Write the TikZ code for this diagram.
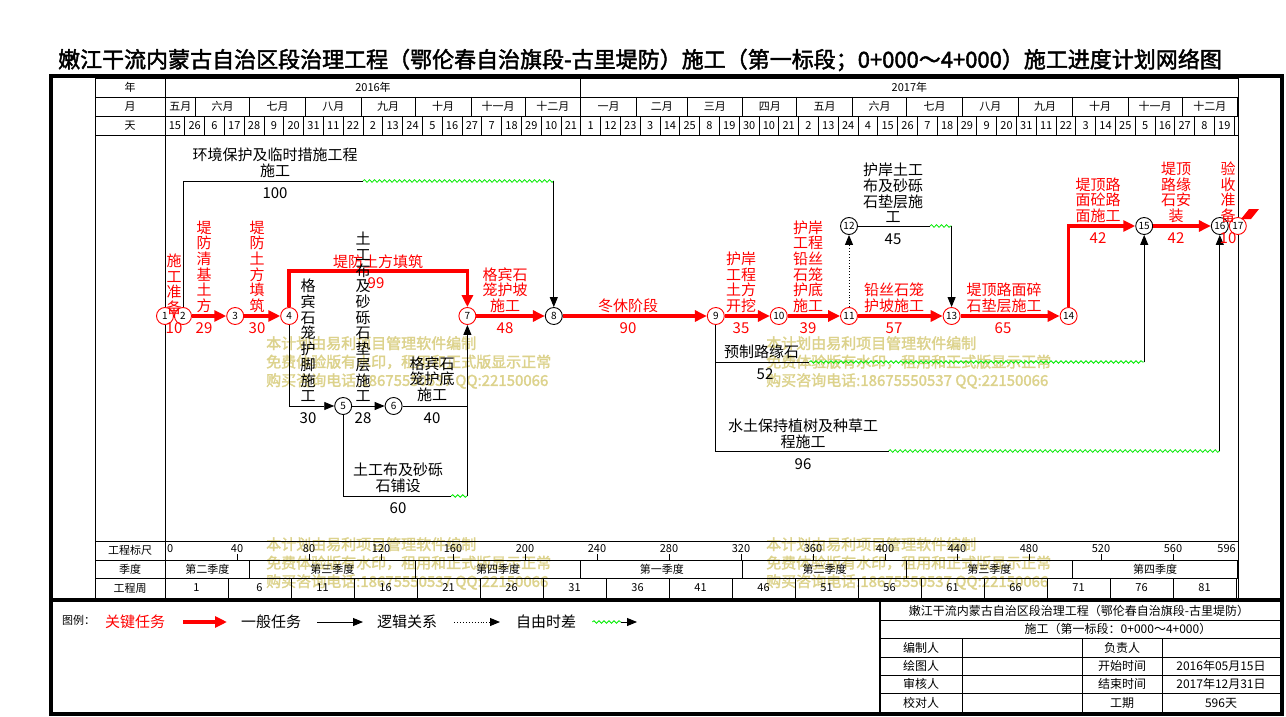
\documentclass[tikz,border=0pt]{standalone}
\usepackage{fontspec}
\setmainfont{Noto Sans CJK SC}
\newfontfamily\boldcjk[FakeBold=2]{Noto Sans CJK SC}
\usetikzlibrary{positioning, arrows.meta, calc, decorations.pathmorphing}
\definecolor{keyred}{RGB}{255,0,0}
\definecolor{floatgreen}{RGB}{0,235,0}
\definecolor{wmyellow}{RGB}{220,210,140}
\tikzset{
  keynode/.style={circle, draw=keyred, fill=white, line width=0.9pt, minimum size=17pt,
    inner sep=0, font=\fontsize{10}{10}\selectfont},
  evnode/.style={keynode, draw=black},
  keyline/.style={keyred, line width=3.5pt},
  keytask/.style={keyline, -{Triangle[length=12pt,width=11pt]}},
  plain/.style={black, line width=0.9pt},
  task/.style={plain, -{Triangle[length=10pt,width=8pt]}},
  logic/.style={task, dotted},
  slack/.style={floatgreen, line width=0.8pt, decorate,
    decoration={snake, amplitude=1.3pt, segment length=5pt}},
  keylab/.style={text=keyred, font=\fontsize{15}{15.7}\selectfont, align=center, inner sep=0},
  lab/.style={keylab, text=black},
  gridline/.style={black, line width=0.8pt},
  hdr/.style={font=\fontsize{11}{12}\selectfont, inner sep=0},
  tb/.style={font=\fontsize{12}{13}\selectfont, inner sep=0},
  wmark/.style={text=wmyellow, font=\boldcjk\fontsize{15}{18.5}\selectfont, align=left,
    anchor=north west, inner sep=0}
}

\begin{document}
\begin{tikzpicture}[x=1pt, y=-1pt]
\useasboundingbox (0,0) rectangle (1286,717);

\node (title) at (640,60) {\boldcjk\fontsize{22}{24}\selectfont 嫩江干流内蒙古自治区段治理工程（鄂伦春自治旗段-古里堤防）施工（第一标段；0+000～4+000）施工进度计划网络图};

% watermark
\foreach \wx/\wy [count=\k] in {266/336, 766/336, 266/537, 766/537}
  \node[wmark] (wm\k) at (\wx,\wy) {本计划由易利项目管理软件编制\\免费体验版有水印，租用和正式版显示正常\\购买咨询电话:18675550537 QQ:22150066};

% frame
\draw[line width=4pt] (51,76) rectangle (1282,714);
\draw[line width=4pt] (51,600) -- (1282,600);

% time scale
\draw[gridline] (95,78) rectangle (1238,598);
\draw[gridline] (165,78) -- (165,598);
\foreach \yy in {97,116,135,541,560,578}
  \draw[gridline] (95,\yy) -- (1238,\yy);

\node[hdr] (hyear) at (130,87.5) {年};
\node[hdr] (hmonth) at (130,106.5) {月};
\node[hdr] (hday) at (130,125.5) {天};
\draw[gridline] (580.8,78) -- (580.8,97);
\node[hdr] (y2016) at (373,87.5) {2016年};
\node[hdr] (y2017) at (909.4,87.5) {2017年};

\foreach \a/\b/\m [count=\k] in {0/17/五月, 17/47/六月, 47/78/七月, 78/109/八月, 109/139/九月,
    139/170/十月, 170/200/十一月, 200/231/十二月, 231/262/一月, 262/290/二月, 290/321/三月,
    321/351/四月, 351/382/五月, 382/412/六月, 412/443/七月, 443/474/八月, 474/504/九月,
    504/535/十月, 535/565/十一月, 565/596/十二月}{
  \draw[gridline] (165+1.8*\b,97) -- (165+1.8*\b,116);
  \node[hdr] (mon\k) at (165+0.9*\a+0.9*\b,106.5) {\m};
}

\foreach \d [count=\i from 0] in {15,26,6,17,28,9,20,31,11,22,2,13,24,5,16,27,7,18,29,10,21,
    1,12,23,3,14,25,8,19,30,10,21,2,13,24,4,15,26,7,18,29,9,20,31,11,22,3,14,25,5,16,27,8,19}{
  \draw[gridline] (184.8+19.8*\i,116) -- (184.8+19.8*\i,135);
  \node[hdr] (day\i) at (174.9+19.8*\i,125.5) {\d};
}

\node[hdr] (lscale) at (130,550.5) {工程标尺};
\node[hdr] (lquart) at (130,569) {季度};
\node[hdr] (lweek) at (130,588) {工程周};

\node[hdr, anchor=west] (sc0) at (167,548.5) {0};
\node[hdr, anchor=east] (sc596) at (1236,548.5) {596};
\foreach \v in {40,80,...,560}{
  \draw[gridline] (165+1.8*\v,554) -- (165+1.8*\v,560);
  \node[hdr] (sc\v) at (165+1.8*\v,548.5) {\v};
}

\foreach \a/\b/\q [count=\k] in {0/47/第二季度, 47/139/第三季度, 139/231/第四季度, 231/321/第一季度,
    321/412/第二季度, 412/504/第三季度, 504/596/第四季度}{
  \draw[gridline] (165+1.8*\b,560) -- (165+1.8*\b,578);
  \node[hdr] (qt\k) at (165+0.9*\a+0.9*\b,569) {\q};
}

\foreach \w [count=\i from 0] in {1,6,...,81}{
  \draw[gridline] (228+63*\i,578) -- (228+63*\i,598);
  \node[hdr] (wk\w) at (196.5+63*\i,588) {\w};
}

% events
\node[keynode] (n1) at (165,316) {1};
\node[keynode] (n2) at (183,316) {2};
\node[keynode] (n3) at (235.2,316) {3};
\node[keynode] (n4) at (289.2,316) {4};
\node[evnode] (n5) at (343.2,406) {5};
\node[evnode] (n6) at (393.6,406) {6};
\node[keynode] (n7) at (467.4,316) {7};
\node[evnode] (n8) at (553.8,316) {8};
\node[keynode] (n9) at (715.8,316) {9};
\node[keynode] (n10) at (778.8,316) {10};
\node[keynode] (n11) at (849,316) {11};
\node[evnode] (n12) at (849,226) {12};
\node[keynode] (n13) at (951.6,316) {13};
\node[keynode] (n14) at (1068.6,316) {14};
\node[evnode] (n15) at (1144.2,226) {15};
\node[evnode] (n16) at (1219.8,226) {16};
\node[keynode] (n17) at (1237.8,226) {17};

\coordinate (dike) at (0,271);
\coordinate (env) at (363,181);
\coordinate (geo) at (451.2,496);
\coordinate (curb) at (809.4,362);
\coordinate (plant) at (888.6,451);
\coordinate (bank) at (930,226);

% critical path
\draw[keyline] (n1) -- (n2);
\draw[keytask] (n2) -- (n3);
\draw[keytask] (n3) -- (n4);
\draw[keytask] (n4) -- (n4 |- dike) -| (n7);
\draw[keytask] (n7) -- (n8);
\draw[keytask] (n8) -- (n9);
\draw[keytask] (n9) -- (n10);
\draw[keytask] (n10) -- (n11);
\draw[keytask] (n11) -- (n13);
\draw[keytask] (n13) -- (n14);
\draw[keytask] (n14) |- (n15);
\draw[keytask] (n15) -- (n16);
\draw[keyline] (n16) -- (n17);
\draw[keyred, line width=1pt] (n17) -- (1243,218);
\fill[keyred] (1241,219) -- (1249,209) -- (1259,209) -- (1251,219) -- cycle;

% other tasks
\draw[plain] (n2) |- (env);
\draw[slack] (env) -- (env -| n8);
\draw[task] (env -| n8) -- (n8);
\draw[task] (n4) |- (n5);
\draw[task] (n5) -- (n6);
\draw[task] (n6) -| (n7);
\draw[plain] (n5) |- (geo);
\draw[slack] (geo) -- (geo -| n7);
\draw[plain] (geo -| n7) -- (n7 |- n6);
\draw[plain] (n9) |- (curb);
\draw[slack] (curb) -- (curb -| n15);
\draw[task] (curb -| n15) -- (n15);
\draw[plain] (n9) |- (plant);
\draw[slack] (plant) -- (plant -| n16);
\draw[task] (plant -| n16) -- (n16);
\draw[logic] (n11) -- (n12);
\draw[plain] (n12) -- (bank);
\draw[slack] (bank) -- (bank -| n13);
\draw[task] (bank -| n13) -- (n13);

% labels
\node[keylab, anchor=south] (t12) at (174,315) {施\\工\\准\\备};
\node[keylab] (d12) at (174,328) {10};
\node[keylab, anchor=south] (t23) at (204,313) {堤\\防\\清\\基\\土\\方};
\node[keylab] (d23) at (204,328) {29};
\node[keylab, anchor=south] (t34) at (257,313) {堤\\防\\土\\方\\填\\筑};
\node[keylab] (d34) at (257,328) {30};
\node[keylab] (t47) at (378,262) {堤防土方填筑};
\node[keylab] (d47) at (376,283) {99};
\node[keylab, anchor=south] (t78) at (505,313) {格宾石\\笼护坡\\施工};
\node[keylab] (d78) at (505,328) {48};
\node[keylab] (t89) at (628,306) {冬休阶段};
\node[keylab] (d89) at (628,328) {90};
\node[keylab, anchor=south] (t910) at (741,313) {护岸\\工程\\土方\\开挖};
\node[keylab] (d910) at (741,328) {35};
\node[keylab, anchor=south] (t1011) at (808,313) {护岸\\工程\\铅丝\\石笼\\护底\\施工};
\node[keylab] (d1011) at (808,328) {39};
\node[keylab, anchor=south] (t1113) at (894,313) {铅丝石笼\\护坡施工};
\node[keylab] (d1113) at (894,328) {57};
\node[keylab, anchor=south] (t1314) at (1004,313) {堤顶路面碎\\石垫层施工};
\node[keylab] (d1314) at (1003,328) {65};
\node[keylab, anchor=south] (t1415) at (1098,223) {堤顶路\\面砼路\\面施工};
\node[keylab] (d1415) at (1098,238) {42};
\node[keylab, anchor=south] (t1516) at (1176,223) {堤顶\\路缘\\石安\\装};
\node[keylab] (d1516) at (1176,238) {42};
\node[keylab, anchor=south] (t1617) at (1228,223) {验\\收\\准\\备};
\node[keylab] (d1617) at (1228,238) {10};

\node[lab] (t28) at (275,163) {环境保护及临时措施工程\\施工};
\node[lab] (d28) at (275,193) {100};
\node[lab, anchor=south] (t45) at (308,402) {格\\宾\\石\\笼\\护\\脚\\施\\工};
\node[lab] (d45) at (308,418) {30};
\node[lab, anchor=south] (t56) at (363,402) {土\\工\\布\\及\\砂\\砾\\石\\垫\\层\\施\\工};
\node[lab] (d56) at (363,418) {28};
\node[lab, anchor=south] (t67) at (432,402) {格宾石\\笼护底\\施工};
\node[lab] (d67) at (432,418) {40};
\node[lab] (t57) at (398,478) {土工布及砂砾\\石铺设};
\node[lab] (d57) at (398,508) {60};
\node[lab, anchor=south] (t1213) at (893,223) {护岸土工\\布及砂砾\\石垫层施\\工};
\node[lab] (d1213) at (893,239) {45};
\node[lab, anchor=west] (t915) at (724,352) {预制路缘石};
\node[lab] (d915) at (765,374) {52};
\node[lab] (t916) at (803,434) {水土保持植树及种草工\\程施工};
\node[lab] (d916) at (803,464) {96};

% legend
\node[hdr, anchor=west] (lgtitle) at (62,620) {图例：};
\node[keylab, anchor=west] (lgkey) at (105,622) {关键任务};
\node[lab, anchor=west] (lgnorm) at (241,622) {一般任务};
\node[lab, anchor=west] (lglogic) at (377,622) {逻辑关系};
\node[lab, anchor=west] (lgfree) at (516,622) {自由时差};
\coordinate (lgend) at (637,622);
\draw[keytask] ([xshift=18]lgkey.east) -- ([xshift=-14]lgnorm.west);
\draw[task] ([xshift=16]lgnorm.east) -- ([xshift=-14]lglogic.west);
\draw[logic] ([xshift=17]lglogic.east) -- ([xshift=-16]lgfree.west);
\draw[slack] ([xshift=16]lgfree.east) -- ([xshift=45]lgfree.east) coordinate (lgwave);
\draw[task] (lgwave) -- (lgend);

% title block
\draw[line width=2pt] (880,600) -- (880,714);
\foreach \yy in {620,638,657,675,693}
  \draw[gridline] (880,\yy) -- (1282,\yy);
\foreach \xx in {962,1082,1162}
  \draw[gridline] (\xx,638) -- (\xx,714);
\node[tb] (tb1) at (1079,610.5) {嫩江干流内蒙古自治区段治理工程（鄂伦春自治旗段-古里堤防）};
\node[tb] (tb2) at (1118,629) {施工（第一标段：0+000～4+000）};
\node[tb] (tbmake) at (921,647.5) {编制人};
\node[tb] (tbresp) at (1122,647.5) {负责人};
\node[tb] (tbdraw) at (921,666) {绘图人};
\node[tb] (tbstart) at (1122,666) {开始时间};
\node[tb] (tbstartv) at (1221,666) {2016年05月15日};
\node[tb] (tbcheck) at (921,684) {审核人};
\node[tb] (tbend) at (1122,684) {结束时间};
\node[tb] (tbendv) at (1221,684) {2017年12月31日};
\node[tb] (tbproof) at (921,703) {校对人};
\node[tb] (tbdur) at (1122,703) {工期};
\node[tb] (tbdurv) at (1221,703) {596天};
\end{tikzpicture}
\end{document}
